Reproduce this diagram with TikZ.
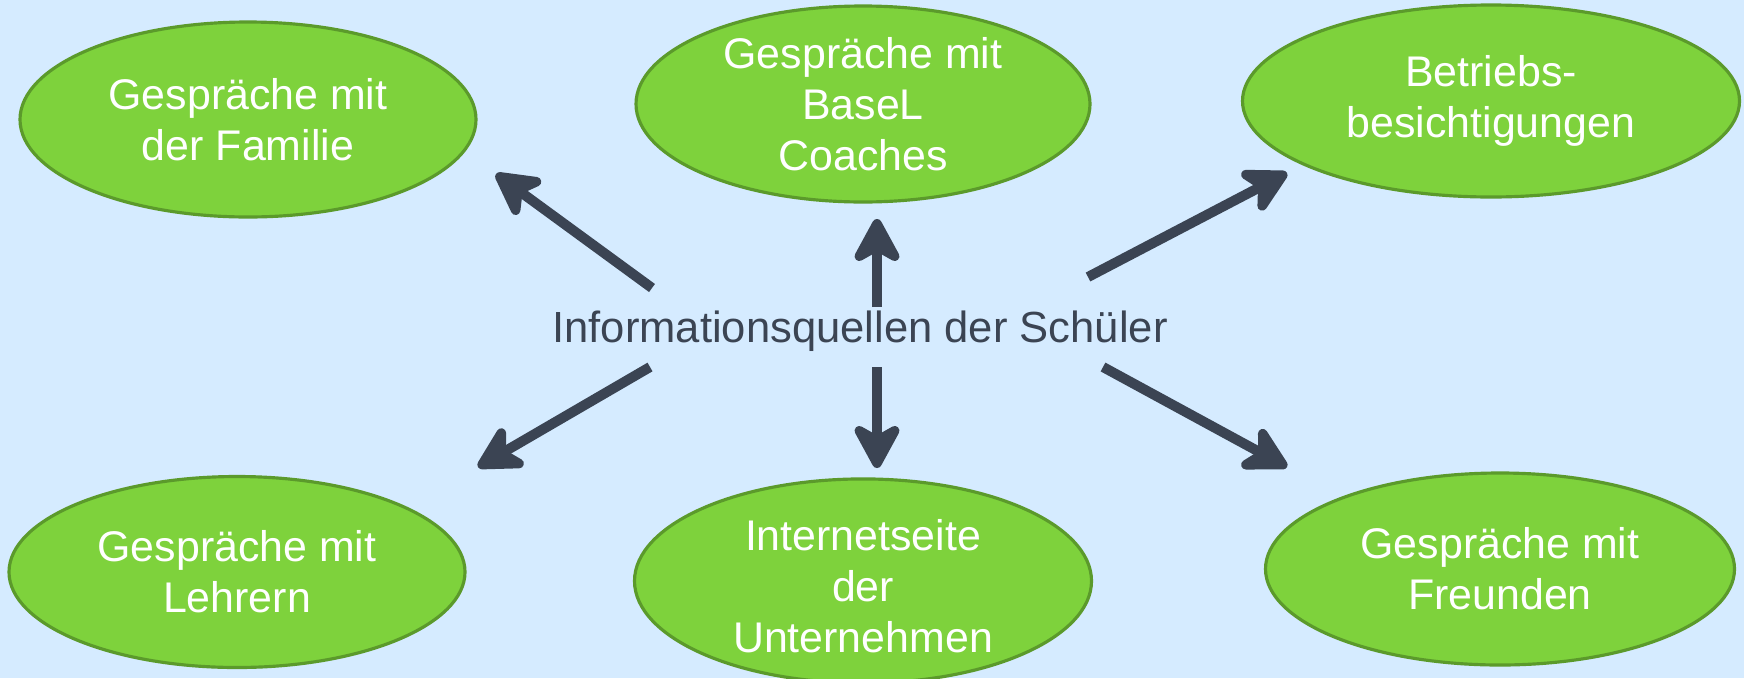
\documentclass[tikz,border=0pt]{standalone}
\usepackage{fontspec}
\setmainfont{Liberation Sans}
\usetikzlibrary{arrows.meta, shapes.geometric}
\definecolor{bgcolor}{HTML}{D5EBFF}
\definecolor{gcolor}{HTML}{7ED23C}
\definecolor{gborder}{HTML}{5B9A2B}
\definecolor{acolor}{HTML}{3B4453}

\begin{document}
\begin{tikzpicture}[
    bubble/.style={ellipse, draw=gborder, fill=gcolor, line width=0.9pt, text=white, align=center, inner sep=0pt, font=\fontsize{12.2}{14.6}\selectfont},
    arr/.style={-{Stealth[length=5.4mm, width=5.8mm, inset=1.6mm, round]}, line width=1mm, draw=acolor},
    lbl/.style={font=\fontsize{12.4}{14.6}\selectfont, text=acolor},
  ]
    % Background
    \fill[bgcolor] (0,0) rectangle (17.44,-6.78);
    \useasboundingbox (0,0) rectangle (17.44,-6.78);

    % Centre label
    \node[lbl, anchor=base] (info) at (8.60,-3.42) {Informationsquellen der Schüler};

    % Sources
    \node[bubble, minimum width=4.56cm, minimum height=1.95cm] (fam) at (2.48,-1.195) {Gespräche mit\\der Familie};
    \node[bubble, minimum width=4.54cm, minimum height=1.96cm] (coach) at (8.63,-1.04) {Gespräche mit\\BaseL\\Coaches};
    \node[bubble, minimum width=4.97cm, minimum height=1.92cm] (betr) at (14.91,-1.01) {Betriebs-\\besichtigungen};
    \node[bubble, minimum width=4.56cm, minimum height=1.91cm] (lehr) at (2.37,-5.72) {Gespräche mit\\Lehrern};
    \node[bubble, minimum width=4.57cm, minimum height=1.91cm] (inet) at (8.63,-5.81) {\\[-0.1cm]Internetseite\\der\\Unternehmen};
    \node[bubble, minimum width=4.69cm, minimum height=1.92cm] (freu) at (15.00,-5.69) {Gespräche mit\\Freunden};

    % Arrow ends
    \coordinate (t1) at (6.52,-2.88);  \coordinate (h1) at (4.96,-1.74);
    \coordinate (t2) at (8.77,-3.07);  \coordinate (h2) at (8.77,-2.19);
    \coordinate (t3) at (10.88,-2.77); \coordinate (h3) at (12.87,-1.73);
    \coordinate (t4) at (6.50,-3.67);  \coordinate (h4) at (4.78,-4.67);
    \coordinate (t5) at (8.77,-3.67);  \coordinate (h5) at (8.77,-4.68);
    \coordinate (t6) at (11.03,-3.67); \coordinate (h6) at (12.87,-4.67);

    % Arrows
    \draw[arr] (t1) -- (h1);
    \draw[arr] (t2) -- (h2);
    \draw[arr] (t3) -- (h3);
    \draw[arr] (t4) -- (h4);
    \draw[arr] (t5) -- (h5);
    \draw[arr] (t6) -- (h6);
  \end{tikzpicture}
\end{document}
